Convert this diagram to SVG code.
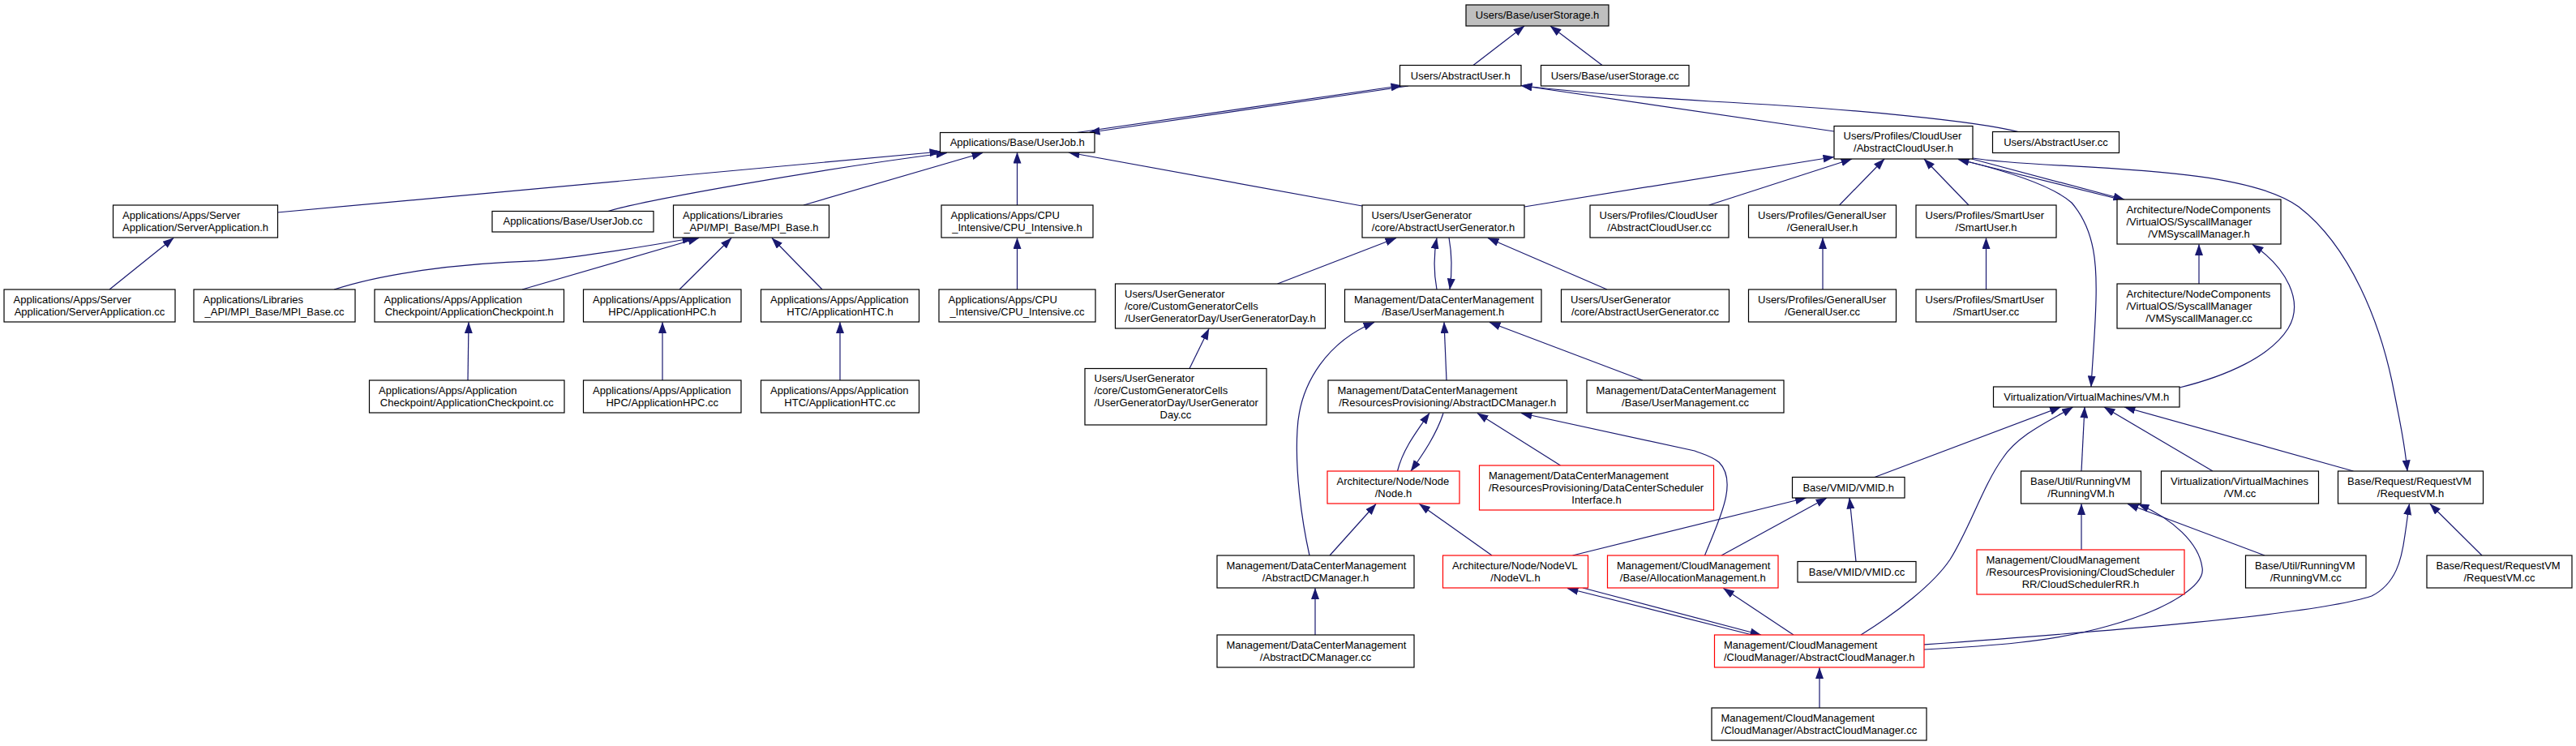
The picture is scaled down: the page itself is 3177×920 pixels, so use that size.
<svg xmlns="http://www.w3.org/2000/svg" width="3177" height="920" viewBox="0 0 3177 920">
<style>
.node rect{fill:#fff;stroke:#000;stroke-width:1.2}
.red rect{stroke:#ff0000}
.root rect{fill:#bfbfbf}
text{font-family:"Liberation Sans",Arial,Helvetica,sans-serif;font-size:13px;fill:#000}
.c{text-anchor:middle}
.edges path{fill:none;stroke:#191970;stroke-width:1.2;marker-end:url(#ah)}
</style>
<defs>
<marker id="ah" viewBox="0 0 14 10" refX="13.5" refY="5" markerWidth="14" markerHeight="10" markerUnits="userSpaceOnUse" orient="auto">
<path d="M0,0 L14,5 L0,10 z" fill="#191970"/>
</marker>
</defs>
<rect width="3177" height="920" fill="#fff"/>
<g class="edges" id="connectors">
<path d="M1817,80.5 L1880,32"/>
<path d="M1976,80.5 L1912,32"/>
<path d="M1328,163.5 L1729,105.5"/>
<path d="M1737,106 L1343,163.5"/>
<path d="M2262,162 L1876,105.5"/>
<path d="M2489,162.5 C2440,150 2300,135 2110,125 C1990,118 1930,112 1876,105.5"/>
<path d="M342,262 L1160,187"/>
<path d="M750,260.5 C790,248 1000,210 1168,188.5"/>
<path d="M991,253 L1212,188.5"/>
<path d="M1254.5,253 L1254.5,188"/>
<path d="M1680,254 L1318,188"/>
<path d="M412,357 C470,338 560,325 663,321.7 C730,315 790,305 855,293.5"/>
<path d="M644,357 L862,293.5"/>
<path d="M838,357 L902,293.5"/>
<path d="M1014,357 L952,293.5"/>
<path d="M135,357 L214,293.5"/>
<path d="M577,469 L578,397.5"/>
<path d="M817,469 L817,397.5"/>
<path d="M1036,469 L1036,397.5"/>
<path d="M1254.5,357 L1254.5,293.5"/>
<path d="M1575.5,350 L1722,293.5"/>
<path d="M1467,454.5 L1491,405.5"/>
<path d="M1772,357 C1768,335 1768,315 1772,293.5"/>
<path d="M1787,293 C1791,315 1791,335 1788,357"/>
<path d="M1982,357 L1835,293.5"/>
<path d="M1880,255 L2262,193.5"/>
<path d="M2107.5,253 L2284,196"/>
<path d="M2268.5,253 L2324,196"/>
<path d="M2428,253 L2373,196"/>
<path d="M2248,357 L2248,293.5"/>
<path d="M2449.5,357 L2449.5,293.5"/>
<path d="M2611,245 L2415,196.5"/>
<path d="M2432,196 L2620,246"/>
<path d="M2712,350 L2712,301.5"/>
<path d="M2422,198 C2490,215 2535,232 2555,250 C2585,285 2586,330 2585,370 C2584,410 2581,440 2579,477"/>
<path d="M2688,478 C2745,464 2800,440 2822,405 C2842,372 2820,330 2778,301.5"/>
<path d="M2433,195 C2520,210 2760,200 2835,255 C2900,305 2935,400 2950,470 C2960,520 2966,550 2969,581"/>
<path d="M2312,588.5 L2541.5,502"/>
<path d="M2295,783 C2340,755 2385,720 2405,690 C2430,650 2445,600 2470,565 C2490,535 2530,518 2556.5,502"/>
<path d="M2567,581 L2571,502"/>
<path d="M2729,581 L2595,502"/>
<path d="M2902.5,581 L2620,502"/>
<path d="M2567,678 L2567,621.5"/>
<path d="M2793,685 L2624,621.5"/>
<path d="M2373,801 C2450,797 2530,792 2600,772 C2680,750 2720,720 2716,700 C2712,670 2680,640 2637,621.5"/>
<path d="M2373,795 C2550,782 2850,760 2925,735 C2955,720 2962,690 2966,660 C2969,640 2970,630 2971.5,621.5"/>
<path d="M3061,685 L2997,621.5"/>
<path d="M1784,469 L1781,397.5"/>
<path d="M2026,469 L1837,397.5"/>
<path d="M1615,685 C1605,640 1597,580 1600,530 C1603,470 1640,420 1695,397.5"/>
<path d="M1723.5,581 C1730,555 1745,535 1763,509.5"/>
<path d="M1780,509.5 C1772,535 1755,560 1740,581"/>
<path d="M1924.5,574 L1822,509.5"/>
<path d="M2102.5,685 C2118,645 2145,595 2120,570 C2110,562 2100,560 2090,556 L1876,509.5"/>
<path d="M1640,685 L1697,621.5"/>
<path d="M1840,685 L1750.5,621.5"/>
<path d="M1622,783 L1622,725.5"/>
<path d="M1939.5,685 L2227.5,614"/>
<path d="M2123,685 L2253,614"/>
<path d="M2289,692.5 L2281,614"/>
<path d="M2161,783 L1933,725.5"/>
<path d="M1952,725 L2172,783"/>
<path d="M2212,783 L2125.5,725.5"/>
<path d="M2244,873 L2244,823.5"/>
</g>
<g id="n1" class="node root"><rect x="1808" y="6" width="176" height="26"/><text class="c" x="1896" y="23">Users/Base/userStorage.h</text></g>
<g id="n2" class="node"><rect x="1726.5" y="80.5" width="149.5" height="25.5"/><text class="c" x="1801.25" y="97.5">Users/AbstractUser.h</text></g>
<g id="n3" class="node"><rect x="1900.5" y="80.5" width="182.5" height="25.5"/><text class="c" x="1991.75" y="97.5">Users/Base/userStorage.cc</text></g>
<g id="n4" class="node"><rect x="1159.5" y="163.5" width="190.5" height="24.5"/><text class="c" x="1254.75" y="179.75">Applications/Base/UserJob.h</text></g>
<g id="n5" class="node"><rect x="2262" y="155.5" width="171" height="40.5"/><text x="2273.5" y="172.25">Users/Profiles/CloudUser</text><text class="c" x="2347.5" y="187.25">/AbstractCloudUser.h</text></g>
<g id="n6" class="node"><rect x="2457.5" y="162.5" width="156" height="26"/><text class="c" x="2535.5" y="179.5">Users/AbstractUser.cc</text></g>
<g id="n7" class="node"><rect x="139.5" y="253" width="203" height="40"/><text x="151" y="269.5">Applications/Apps/Server</text><text class="c" x="241" y="284.5">Application/ServerApplication.h</text></g>
<g id="n8" class="node"><rect x="607" y="260.5" width="199" height="25.5"/><text class="c" x="706.5" y="277.25">Applications/Base/UserJob.cc</text></g>
<g id="n9" class="node"><rect x="830.5" y="253" width="192" height="40"/><text x="842" y="269.5">Applications/Libraries</text><text class="c" x="926.5" y="284.5">_API/MPI_Base/MPI_Base.h</text></g>
<g id="n10" class="node"><rect x="1161" y="253" width="187" height="40"/><text x="1172.5" y="269.5">Applications/Apps/CPU</text><text class="c" x="1254.5" y="284.5">_Intensive/CPU_Intensive.h</text></g>
<g id="n11" class="node"><rect x="1680" y="253" width="200" height="40"/><text x="1691.5" y="269.5">Users/UserGenerator</text><text class="c" x="1780" y="284.5">/core/AbstractUserGenerator.h</text></g>
<g id="n12" class="node"><rect x="1961" y="253" width="171" height="40"/><text x="1972.5" y="269.5">Users/Profiles/CloudUser</text><text class="c" x="2046.5" y="284.5">/AbstractCloudUser.cc</text></g>
<g id="n13" class="node"><rect x="2156.5" y="253" width="182" height="40"/><text x="2168" y="269.5">Users/Profiles/GeneralUser</text><text class="c" x="2247.5" y="284.5">/GeneralUser.h</text></g>
<g id="n14" class="node"><rect x="2363" y="253" width="173" height="40"/><text x="2374.5" y="269.5">Users/Profiles/SmartUser</text><text class="c" x="2449.5" y="284.5">/SmartUser.h</text></g>
<g id="n15" class="node"><rect x="2611" y="246" width="202" height="55"/><text x="2622.5" y="262.5">Architecture/NodeComponents</text><text x="2622.5" y="277.5">/VirtualOS/SyscallManager</text><text class="c" x="2712" y="292.5">/VMSyscallManager.h</text></g>
<g id="n16" class="node"><rect x="5" y="357" width="211" height="40"/><text x="16.5" y="373.5">Applications/Apps/Server</text><text class="c" x="110.5" y="388.5">Application/ServerApplication.cc</text></g>
<g id="n17" class="node"><rect x="239" y="357" width="199" height="40"/><text x="250.5" y="373.5">Applications/Libraries</text><text class="c" x="338.5" y="388.5">_API/MPI_Base/MPI_Base.cc</text></g>
<g id="n18" class="node"><rect x="462" y="357" width="233.5" height="40"/><text x="473.5" y="373.5">Applications/Apps/Application</text><text class="c" x="578.75" y="388.5">Checkpoint/ApplicationCheckpoint.h</text></g>
<g id="n19" class="node"><rect x="719.5" y="357" width="194.5" height="40"/><text x="731" y="373.5">Applications/Apps/Application</text><text class="c" x="816.75" y="388.5">HPC/ApplicationHPC.h</text></g>
<g id="n20" class="node"><rect x="938.5" y="357" width="195" height="40"/><text x="950" y="373.5">Applications/Apps/Application</text><text class="c" x="1036" y="388.5">HTC/ApplicationHTC.h</text></g>
<g id="n21" class="node"><rect x="1158" y="357" width="193" height="40"/><text x="1169.5" y="373.5">Applications/Apps/CPU</text><text class="c" x="1254.5" y="388.5">_Intensive/CPU_Intensive.cc</text></g>
<g id="n22" class="node"><rect x="1375.5" y="350" width="259" height="55"/><text x="1387" y="366.5">Users/UserGenerator</text><text x="1387" y="381.5">/core/CustomGeneratorCells</text><text class="c" x="1505" y="396.5">/UserGeneratorDay/UserGeneratorDay.h</text></g>
<g id="n23" class="node"><rect x="1658.5" y="357" width="242.5" height="40"/><text x="1670" y="373.5">Management/DataCenterManagement</text><text class="c" x="1779.75" y="388.5">/Base/UserManagement.h</text></g>
<g id="n24" class="node"><rect x="1925.5" y="357" width="207" height="40"/><text x="1937" y="373.5">Users/UserGenerator</text><text class="c" x="2029" y="388.5">/core/AbstractUserGenerator.cc</text></g>
<g id="n25" class="node"><rect x="2156.5" y="357" width="182" height="40"/><text x="2168" y="373.5">Users/Profiles/GeneralUser</text><text class="c" x="2247.5" y="388.5">/GeneralUser.cc</text></g>
<g id="n26" class="node"><rect x="2363" y="357" width="173" height="40"/><text x="2374.5" y="373.5">Users/Profiles/SmartUser</text><text class="c" x="2449.5" y="388.5">/SmartUser.cc</text></g>
<g id="n27" class="node"><rect x="2611" y="350" width="202" height="55"/><text x="2622.5" y="366.5">Architecture/NodeComponents</text><text x="2622.5" y="381.5">/VirtualOS/SyscallManager</text><text class="c" x="2712" y="396.5">/VMSyscallManager.cc</text></g>
<g id="n28" class="node"><rect x="455.5" y="469" width="240.5" height="40"/><text x="467" y="485.5">Applications/Apps/Application</text><text class="c" x="575.75" y="500.5">Checkpoint/ApplicationCheckpoint.cc</text></g>
<g id="n29" class="node"><rect x="719.5" y="469" width="194.5" height="40"/><text x="731" y="485.5">Applications/Apps/Application</text><text class="c" x="816.75" y="500.5">HPC/ApplicationHPC.cc</text></g>
<g id="n30" class="node"><rect x="938.5" y="469" width="195" height="40"/><text x="950" y="485.5">Applications/Apps/Application</text><text class="c" x="1036" y="500.5">HTC/ApplicationHTC.cc</text></g>
<g id="n31" class="node"><rect x="1338" y="454.5" width="224" height="69.5"/><text x="1349.5" y="470.75">Users/UserGenerator</text><text x="1349.5" y="485.75">/core/CustomGeneratorCells</text><text x="1349.5" y="500.75">/UserGeneratorDay/UserGenerator</text><text class="c" x="1450" y="515.75">Day.cc</text></g>
<g id="n32" class="node"><rect x="1638" y="469" width="294.5" height="40"/><text x="1649.5" y="485.5">Management/DataCenterManagement</text><text class="c" x="1785.25" y="500.5">/ResourcesProvisioning/AbstractDCManager.h</text></g>
<g id="n33" class="node"><rect x="1957" y="469" width="243" height="40"/><text x="1968.5" y="485.5">Management/DataCenterManagement</text><text class="c" x="2078.5" y="500.5">/Base/UserManagement.cc</text></g>
<g id="n34" class="node"><rect x="2458.5" y="477" width="229.5" height="25"/><text class="c" x="2573.25" y="493.5">Virtualization/VirtualMachines/VM.h</text></g>
<g id="n35" class="node red"><rect x="1637" y="581" width="163" height="40"/><text x="1648.5" y="597.5">Architecture/Node/Node</text><text class="c" x="1718.5" y="612.5">/Node.h</text></g>
<g id="n36" class="node red"><rect x="1824.5" y="574" width="289" height="55"/><text x="1836" y="590.5">Management/DataCenterManagement</text><text x="1836" y="605.5">/ResourcesProvisioning/DataCenterScheduler</text><text class="c" x="1969" y="620.5">Interface.h</text></g>
<g id="n37" class="node"><rect x="2210.5" y="588.5" width="138.5" height="25.5"/><text class="c" x="2279.75" y="605.5">Base/VMID/VMID.h</text></g>
<g id="n38" class="node"><rect x="2492.5" y="581" width="148" height="40"/><text x="2504" y="597.5">Base/Util/RunningVM</text><text class="c" x="2566.5" y="612.5">/RunningVM.h</text></g>
<g id="n39" class="node"><rect x="2665.5" y="581" width="194" height="40"/><text x="2677" y="597.5">Virtualization/VirtualMachines</text><text class="c" x="2762.5" y="612.5">/VM.cc</text></g>
<g id="n40" class="node"><rect x="2883.5" y="581" width="179" height="40"/><text x="2895" y="597.5">Base/Request/RequestVM</text><text class="c" x="2973" y="612.5">/RequestVM.h</text></g>
<g id="n41" class="node"><rect x="1501" y="685" width="243" height="40"/><text x="1512.5" y="701.5">Management/DataCenterManagement</text><text class="c" x="1622.5" y="716.5">/AbstractDCManager.h</text></g>
<g id="n42" class="node red"><rect x="1779.5" y="685" width="179" height="40"/><text x="1791" y="701.5">Architecture/Node/NodeVL</text><text class="c" x="1869" y="716.5">/NodeVL.h</text></g>
<g id="n43" class="node red"><rect x="1982.5" y="685" width="210.5" height="40"/><text x="1994" y="701.5">Management/CloudManagement</text><text class="c" x="2087.75" y="716.5">/Base/AllocationManagement.h</text></g>
<g id="n44" class="node"><rect x="2217" y="692.5" width="146" height="25.5"/><text class="c" x="2290" y="709.5">Base/VMID/VMID.cc</text></g>
<g id="n45" class="node red"><rect x="2438" y="678" width="256" height="55"/><text x="2449.5" y="694.5">Management/CloudManagement</text><text x="2449.5" y="709.5">/ResourcesProvisioning/CloudScheduler</text><text class="c" x="2566" y="724.5">RR/CloudSchedulerRR.h</text></g>
<g id="n46" class="node"><rect x="2769.5" y="685" width="148.5" height="40"/><text x="2781" y="701.5">Base/Util/RunningVM</text><text class="c" x="2843.75" y="716.5">/RunningVM.cc</text></g>
<g id="n47" class="node"><rect x="2993" y="685" width="179" height="40"/><text x="3004.5" y="701.5">Base/Request/RequestVM</text><text class="c" x="3082.5" y="716.5">/RequestVM.cc</text></g>
<g id="n48" class="node"><rect x="1501" y="783" width="243" height="40"/><text x="1512.5" y="799.5">Management/DataCenterManagement</text><text class="c" x="1622.5" y="814.5">/AbstractDCManager.cc</text></g>
<g id="n49" class="node red"><rect x="2114.5" y="783" width="258.5" height="40"/><text x="2126" y="799.5">Management/CloudManagement</text><text class="c" x="2243.75" y="814.5">/CloudManager/AbstractCloudManager.h</text></g>
<g id="n50" class="node"><rect x="2111" y="873" width="265" height="40"/><text x="2122.5" y="889.5">Management/CloudManagement</text><text class="c" x="2243.5" y="904.5">/CloudManager/AbstractCloudManager.cc</text></g>
</svg>
